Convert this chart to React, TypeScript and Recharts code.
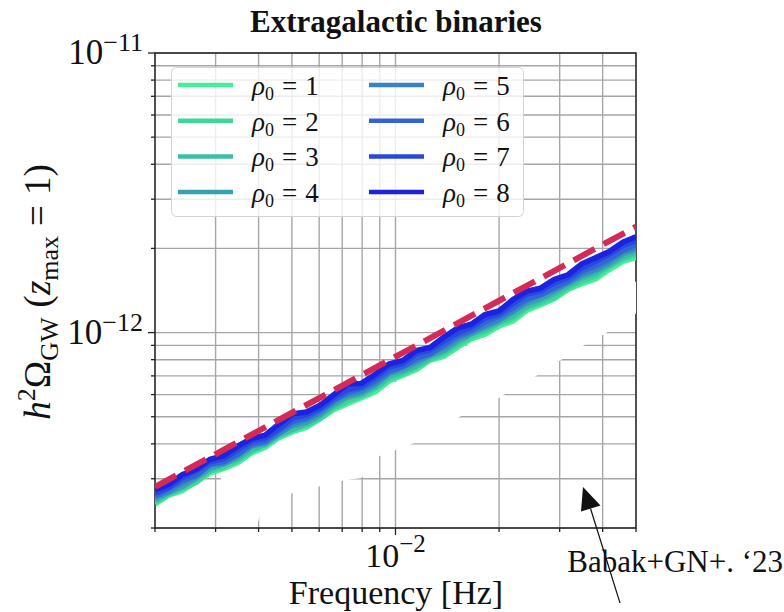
import React from "react";
import {
  ComposedChart,
  Line,
  Area,
  XAxis,
  YAxis,
  CartesianGrid,
  ReferenceArea,
} from "recharts";

const SERIF = '"Liberation Serif", "DejaVu Serif", serif';

// Omega values are stored in units of 1e-13
const UNIT = 1e-13;

// Frequency samples [Hz]
const freqs = [
  2.0e-3, 2.19e-3, 2.4e-3, 2.64e-3, 2.89e-3, 3.17e-3, 3.48e-3, 3.81e-3, 4.18e-3,
  4.58e-3, 5.02e-3, 5.51e-3, 6.04e-3, 6.62e-3, 7.26e-3, 7.96e-3, 8.73e-3, 9.57e-3,
  1.05e-2, 1.15e-2, 1.26e-2, 1.38e-2, 1.52e-2, 1.66e-2, 1.82e-2, 2.0e-2, 2.19e-2,
  2.4e-2, 2.64e-2, 2.89e-2, 3.17e-2, 3.48e-2, 3.81e-2, 4.18e-2, 4.58e-2, 5.0e-2,
];

// h^2 Omega_GW for each SNR threshold rho_0
const rho1 = [
  2.44, 2.62, 2.72, 2.94, 3.15, 3.27, 3.43, 3.71, 3.89, 4.21, 4.42, 4.59, 4.92,
  5.31, 5.58, 5.85, 6.14, 6.71, 7.04, 7.38, 7.98, 8.21, 8.88, 9.5, 9.87, 10.57,
  10.98, 11.99, 12.58, 13.2, 14.26, 14.97, 15.55, 16.81, 17.98, 18.58,
];
const rho2 = [
  2.47, 2.64, 2.77, 2.92, 3.2, 3.31, 3.49, 3.77, 3.98, 4.26, 4.5, 4.66, 4.93,
  5.39, 5.69, 5.93, 6.31, 6.83, 7.14, 7.53, 8.02, 8.38, 9.06, 9.64, 10.08, 10.81,
  11.24, 12.24, 12.8, 13.38, 14.47, 15.29, 15.92, 17.25, 18.36, 19.01,
];
const rho3 = [
  2.51, 2.67, 2.81, 3.01, 3.24, 3.4, 3.54, 3.82, 3.98, 4.32, 4.51, 4.74, 5.05,
  5.47, 5.86, 6.02, 6.38, 6.95, 7.25, 7.61, 8.18, 8.55, 9.25, 9.88, 10.29, 10.89,
  11.5, 12.4, 13.02, 13.76, 14.69, 15.7, 16.28, 17.45, 18.62, 19.43,
];
const rho4 = [
  2.54, 2.69, 2.82, 3.04, 3.29, 3.39, 3.6, 3.93, 4.02, 4.37, 4.65, 4.77, 5.11,
  5.56, 5.92, 6.1, 6.49, 7.15, 7.35, 7.82, 8.28, 8.64, 9.43, 9.92, 10.5, 11.05,
  11.86, 12.72, 13.24, 14.03, 15.02, 15.94, 16.65, 17.65, 19.11, 19.85,
];
const rho5 = [
  2.58, 2.71, 2.91, 3.07, 3.38, 3.42, 3.66, 3.94, 4.06, 4.36, 4.73, 4.89, 5.18,
  5.71, 6.03, 6.18, 6.61, 7.18, 7.55, 7.97, 8.37, 8.88, 9.61, 10.06, 10.6, 11.21,
  12.01, 12.97, 13.62, 14.31, 15.11, 16.26, 16.88, 18.08, 19.48, 20.15,
];
const rho6 = [
  2.61, 2.77, 2.96, 3.1, 3.38, 3.46, 3.68, 4.0, 4.1, 4.47, 4.81, 4.96, 5.3,
  5.72, 6.14, 6.33, 6.73, 7.3, 7.56, 8.12, 8.4, 9.05, 9.79, 10.2, 10.92, 11.48,
  12.27, 13.21, 13.68, 14.48, 15.32, 16.58, 17.38, 18.4, 19.7, 20.7,
];
const rho7 = [
  2.67, 2.79, 3.03, 3.21, 3.45, 3.54, 3.81, 4.09, 4.2, 4.53, 4.95, 5.09, 5.37,
  5.87, 6.26, 6.42, 6.92, 7.52, 7.76, 8.43, 8.67, 9.33, 10.02, 10.46, 11.27, 11.67,
  12.68, 13.72, 14.08, 15.05, 15.74, 17.02, 17.97, 19.09, 20.49, 21.4,
];
const rho8 = [
  2.74, 2.86, 3.1, 3.25, 3.52, 3.63, 3.93, 4.18, 4.3, 4.7, 5.12, 5.2, 5.5,
  6.0, 6.55, 6.58, 7.1, 7.72, 7.95, 8.62, 8.85, 9.62, 10.4, 10.72, 11.6, 11.95,
  13.1, 14.05, 14.42, 15.48, 16.1, 17.62, 18.5, 19.48, 21.05, 22.0,
];

// dashed reference power law (f^{2/3})
const refFreqs = [2e-3, 5e-2];
const refOmega = [2.806, 23.93];

// white patch below the curves
const maskFreqs = [
  3.11e-3, 3.96e-3, 4.06e-3, 5.01e-3, 7.0e-3, 7.96e-3, 8.98e-3, 1.12e-2, 1.51e-2,
  2.0e-2, 2.54e-2, 3.01e-2, 3.51e-2, 4.06e-2, 4.59e-2, 5.0e-2,
];
const maskLow = [
  2.03, 2.03, 2.3, 2.67, 2.95, 3.02, 3.62, 4.0, 4.95, 5.85, 6.95, 7.94, 8.98,
  9.91, 10.9, 11.7,
];
const maskHigh = [
  3.2, 3.72, 3.78, 4.32, 5.33, 5.78, 6.22, 7.16, 8.62, 10.25, 11.95, 13.35, 14.65,
  16.05, 17.5, 15.1,
];

const xTicks = [
  2e-3, 3e-3, 4e-3, 5e-3, 6e-3, 7e-3, 8e-3, 9e-3, 1e-2, 2e-2, 3e-2, 4e-2, 5e-2,
];
const yTicks = [
  2e-13, 3e-13, 4e-13, 5e-13, 6e-13, 7e-13, 8e-13, 9e-13, 1e-12, 2e-12, 3e-12,
  4e-12, 5e-12, 6e-12, 7e-12, 8e-12, 9e-12, 1e-11,
];

const series = [
  { key: "rho1", label: "1", color: "#46ee9a", values: rho1 },
  { key: "rho2", label: "2", color: "#3dd898", values: rho2 },
  { key: "rho3", label: "3", color: "#38bfa6", values: rho3 },
  { key: "rho4", label: "4", color: "#37a0b2", values: rho4 },
  { key: "rho5", label: "5", color: "#3782c8", values: rho5 },
  { key: "rho6", label: "6", color: "#3264d4", values: rho6 },
  { key: "rho7", label: "7", color: "#2846e2", values: rho7 },
  { key: "rho8", label: "8", color: "#1c22e0", values: rho8 },
];

const rows = freqs.map((f, i) => {
  const row: Record<string, number> = { f };
  series.forEach((s) => {
    row[s.key] = s.values[i] * UNIT;
  });
  return row;
});
const refRows = refFreqs.map((f, i) => ({ f, omega: refOmega[i] * UNIT }));
const maskRows = maskFreqs.map((f, i) => ({
  f,
  band: [maskLow[i] * UNIT, maskHigh[i] * UNIT],
}));

const isMajor = (v: number) =>
  Math.abs(Math.log10(v) - Math.round(Math.log10(v))) < 1e-6;
const expText = (v: number) => `\u2212${Math.abs(Math.round(Math.log10(v)))}`;

const XTick = (props: any) => {
  const { x, y, payload } = props;
  const major = isMajor(payload.value);
  return (
    <g>
      <line x1={x} x2={x} y1={y} y2={y + (major ? 7 : 4)} stroke="#222" strokeWidth={1.3} />
      {major && (
        <text x={x} y={y + 39} textAnchor="middle" fontFamily={SERIF} fontSize={34} fill="#111">
          10
          <tspan dy={-15} fontSize={25}>
            {expText(payload.value)}
          </tspan>
        </text>
      )}
    </g>
  );
};

const YTick = (props: any) => {
  const { x, y, payload } = props;
  const major = isMajor(payload.value);
  return (
    <g>
      <line x1={x} x2={x - (major ? 7 : 4)} y1={y} y2={y} stroke="#222" strokeWidth={1.3} />
      {major && (
        <text x={x - 12} y={y + 11} textAnchor="end" fontFamily={SERIF} fontSize={35} fill="#111">
          10
          <tspan dy={-13} fontSize={26}>
            {expText(payload.value)}
          </tspan>
        </text>
      )}
    </g>
  );
};

const App = () => {
  return (
    <div
      style={{
        position: "absolute",
        left: 0,
        top: 0,
        width: 784,
        height: 612,
        background: "#fff",
      }}
    >
      <ComposedChart
        width={784}
        height={612}
        data={rows}
        margin={{ top: 53, right: 148, bottom: 0, left: 0 }}
      >
        <CartesianGrid stroke="#a6a6a6" strokeWidth={1.4} />
        <XAxis
          dataKey="f"
          type="number"
          scale="log"
          domain={[2e-3, 5e-2]}
          ticks={xTicks}
          interval={0}
          allowDataOverflow
          height={84}
          tickSize={0}
          tickMargin={0}
          axisLine={false}
          tickLine={false}
          tick={(p: any) => <XTick {...p} />}
        />
        <YAxis
          type="number"
          scale="log"
          domain={[2e-13, 1e-11]}
          ticks={yTicks}
          interval={0}
          allowDataOverflow
          width={155}
          tickSize={0}
          tickMargin={0}
          axisLine={false}
          tickLine={false}
          tick={(p: any) => <YTick {...p} />}
        />
        {series.map((s) => (
          <Line
            key={s.key}
            dataKey={s.key}
            type="linear"
            stroke={s.color}
            strokeWidth={5.5}
            dot={false}
            activeDot={false}
            isAnimationActive={false}
          />
        ))}
        <ReferenceArea
          x1={2e-3}
          x2={5e-2}
          y1={2e-13}
          y2={1e-11}
          fill="none"
          stroke="#222"
          strokeWidth={1.4}
        />
        <Area
          data={maskRows}
          dataKey="band"
          type="linear"
          stroke="none"
          fill="#ffffff"
          fillOpacity={1}
          dot={false}
          activeDot={false}
          legendType="none"
          isAnimationActive={false}
        />
        <Line
          data={refRows}
          dataKey="omega"
          type="linear"
          stroke="#d52a55"
          strokeWidth={6}
          strokeDasharray="24 10"
          dot={false}
          activeDot={false}
          legendType="none"
          isAnimationActive={false}
        />
      </ComposedChart>

      <svg
        width={784}
        height={612}
        style={{ position: "absolute", left: 0, top: 0, pointerEvents: "none" }}
      >
        <text x={396} y={32} textAnchor="middle" fontFamily={SERIF} fontSize={31} fontWeight="bold" fill="#111">
          Extragalactic binaries
        </text>

        {/* legend */}
        <rect x={171.5} y={67.5} width={352} height={149} rx={5} fill="rgba(255,255,255,0.8)" stroke="#d4d4d4" />
        {series.map((s, i) => {
          const lx = 178 + Math.floor(i / 4) * 191;
          const ly = 85 + (i % 4) * 35.7;
          return (
            <g key={s.key}>
              <line x1={lx} x2={lx + 55} y1={ly} y2={ly} stroke={s.color} strokeWidth={4.5} />
              <text x={lx + 74} y={ly + 10} fontFamily={SERIF} fontSize={27} fill="#111">
                <tspan fontStyle="italic">ρ</tspan>
                <tspan fontSize={18} dy={5}>0</tspan>
                <tspan dy={-5} dx={8}>=</tspan>
                <tspan dx={8}>{s.label}</tspan>
              </text>
            </g>
          );
        })}

        <text transform="rotate(-90)" x={-292} y={50} textAnchor="middle" fontFamily={SERIF} fontSize={37} fill="#111">
          <tspan fontStyle="italic">h</tspan>
          <tspan fontSize={26} dy={-15}>2</tspan>
          <tspan dy={15}>Ω</tspan>
          <tspan fontSize={26} dy={8}>GW</tspan>
          <tspan dy={-8} dx={10}>(</tspan>
          <tspan fontStyle="italic">z</tspan>
          <tspan fontSize={26} dy={8}>max</tspan>
          <tspan dy={-8} dx={10}>=</tspan>
          <tspan dx={10}>1)</tspan>
        </text>

        <text x={396} y={604} textAnchor="middle" fontFamily={SERIF} fontSize={34} fill="#111">
          Frequency [Hz]
        </text>

        <text x={783} y={572} textAnchor="end" fontFamily={SERIF} fontSize={31} fill="#111">
          Babak+GN+. ‘23
        </text>
        <line x1={620} y1={603} x2={590.5} y2={508.5} stroke="#111" strokeWidth={1.2} />
        <polygon points="583,487 600.5,505.5 581,511.5" fill="#111" />
      </svg>
    </div>
  );
};

export default App;
